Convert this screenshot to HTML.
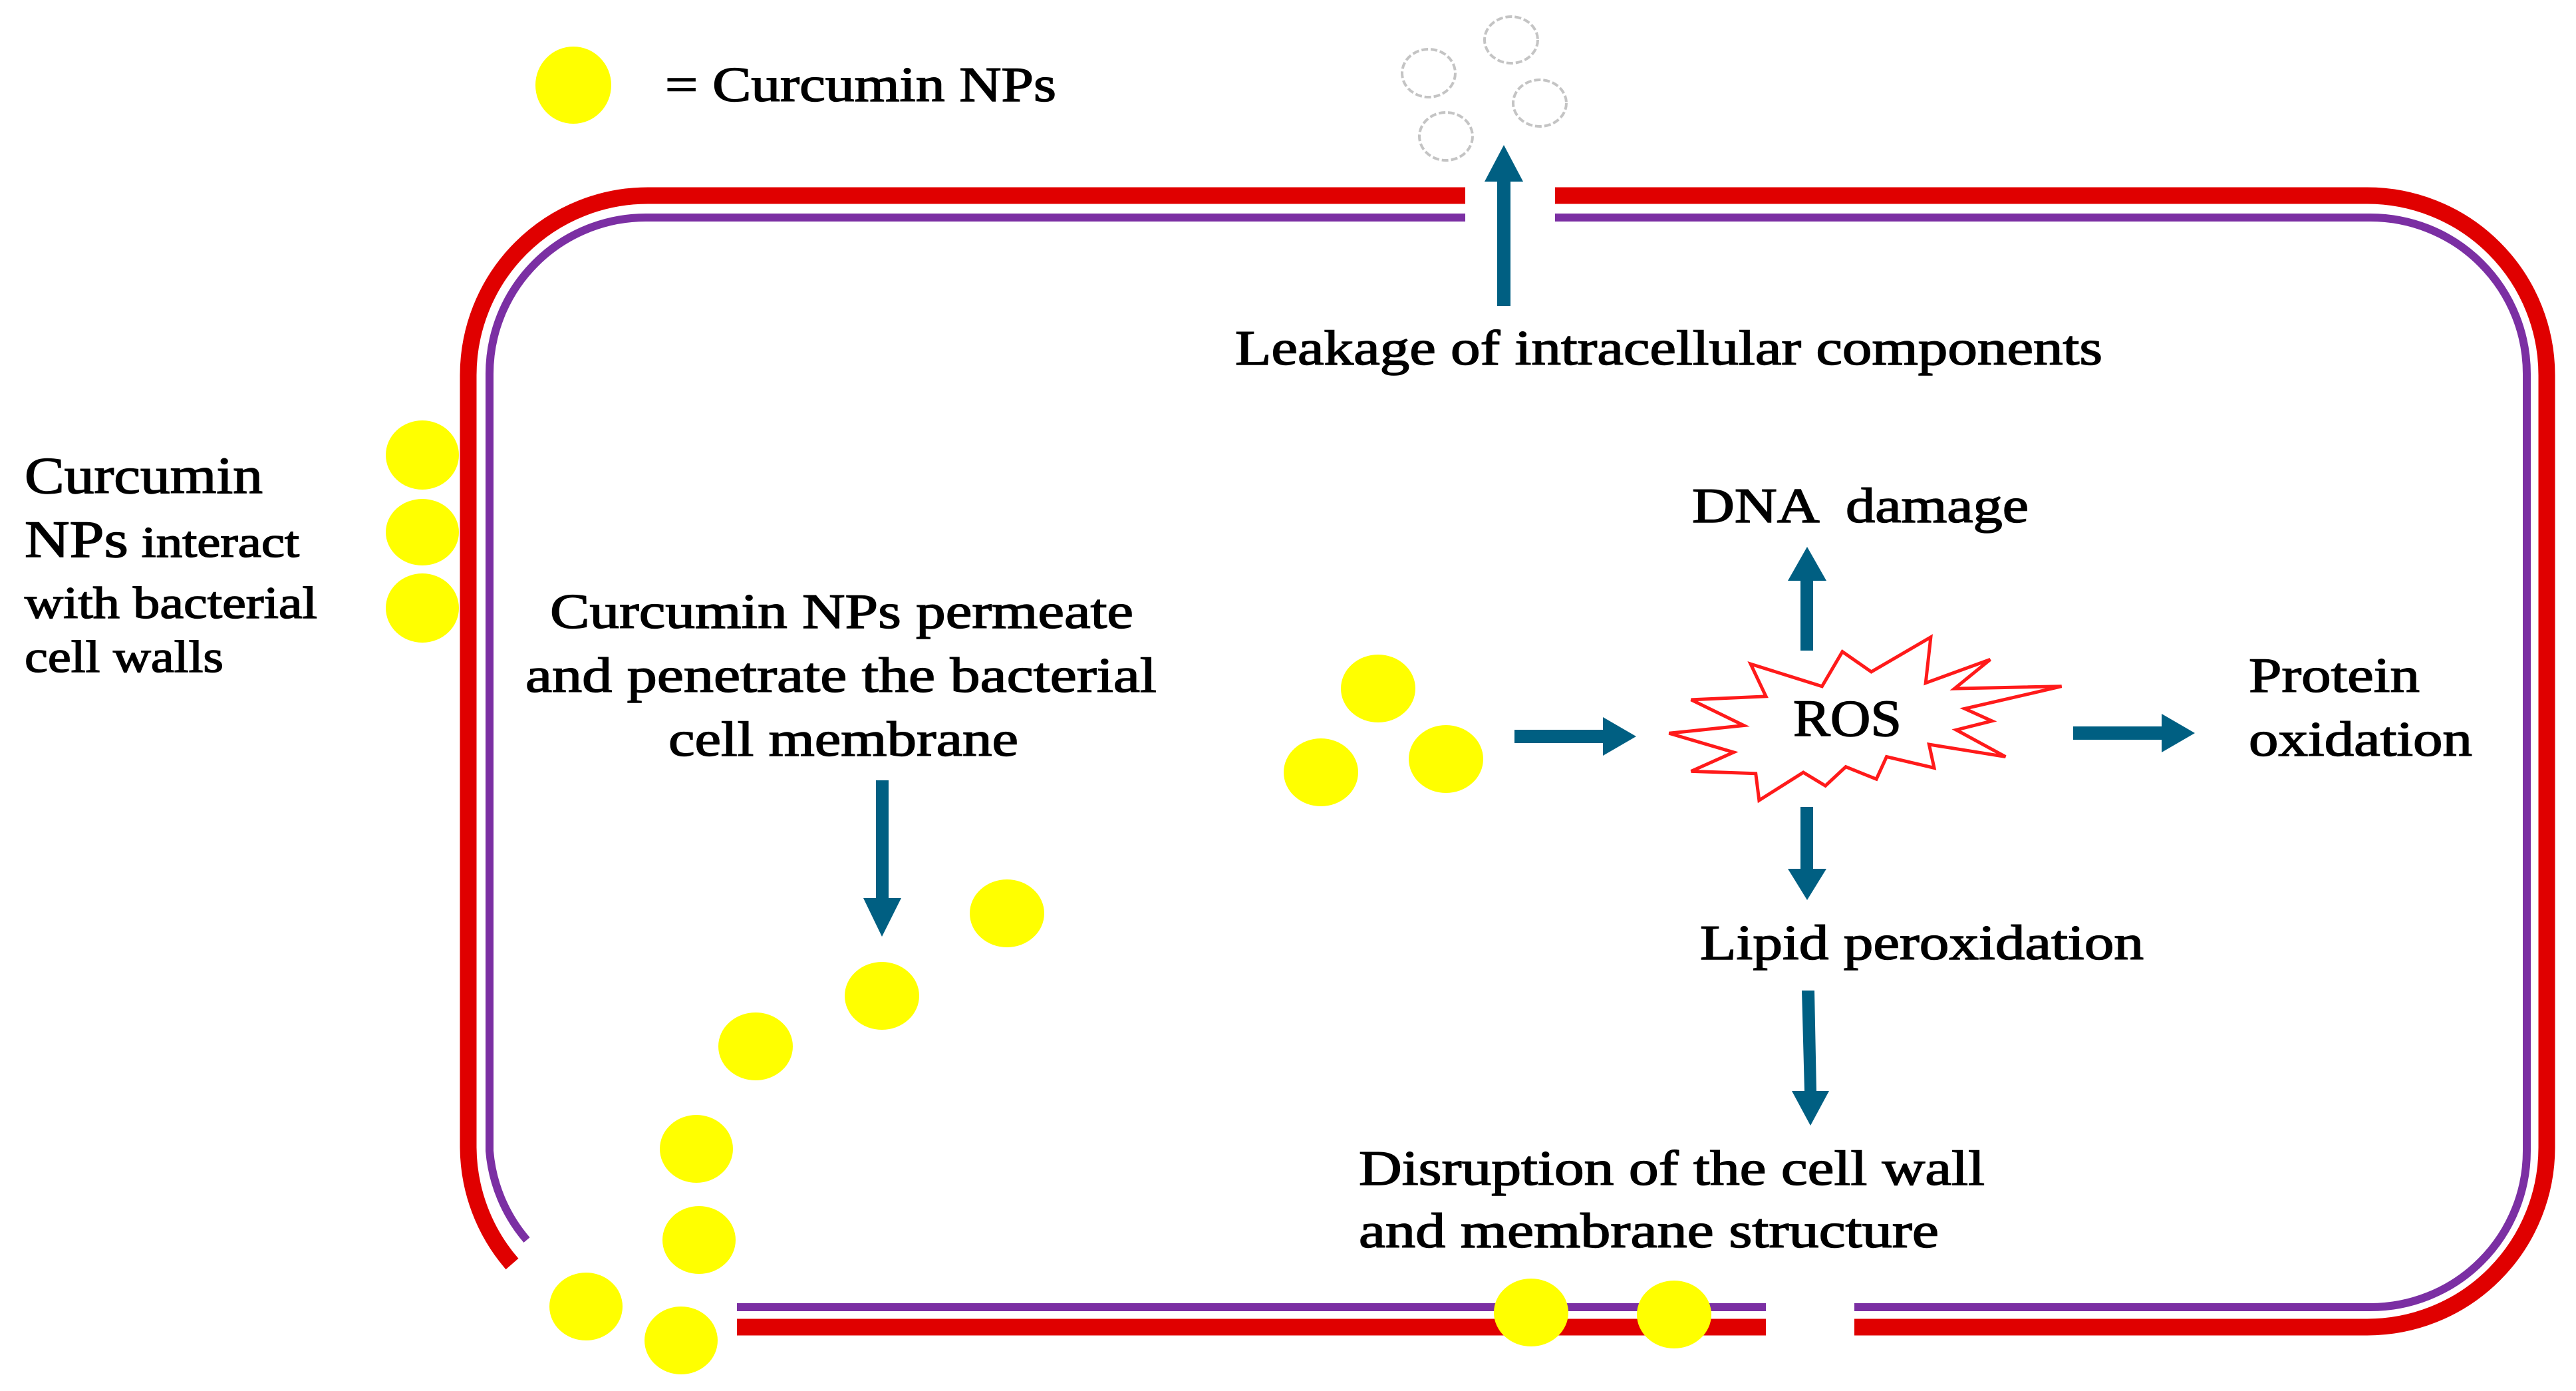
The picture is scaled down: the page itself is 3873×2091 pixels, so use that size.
<!DOCTYPE html>
<html><head><meta charset="utf-8"><style>html,body{margin:0;padding:0;background:#fff}svg{display:block}</style></head>
<body>
<svg width="3873" height="2091" viewBox="0 0 3873 2091" xmlns="http://www.w3.org/2000/svg">
<rect width="3873" height="2091" fill="#fff"/>
<!-- membranes -->
<g fill="none" stroke-linecap="butt">
<path d="M1108,1995 L2655,1995 M2788,1995 L3559,1995 A270,270 0 0 0 3829,1725 L3829,564 A270,270 0 0 0 3559,294 L2338,294 M2203,294 L974,294 A270,270 0 0 0 704,564 L704,1725 A270,270 0 0 0 770,1900" stroke="#e00000" stroke-width="25"/>
<path d="M1108,1965 L2655,1965 M2788,1965 L3564,1965 A235,235 0 0 0 3799,1730 L3799,562 A235,235 0 0 0 3564,327 L2338,327 M2203,327 L971,327 A235,235 0 0 0 736,562 L736,1730 A235,235 0 0 0 792,1864" stroke="#7b2fa3" stroke-width="12"/>
</g>
<!-- clouds -->
<g fill="#fff" stroke="#c4c4c4" stroke-width="4" stroke-dasharray="10 4">
<ellipse cx="2148" cy="110" rx="40" ry="36"/>
<ellipse cx="2272" cy="60" rx="40" ry="35"/>
<ellipse cx="2315" cy="155" rx="40" ry="35"/>
<ellipse cx="2174" cy="205" rx="40" ry="36"/>
</g>
<!-- yellow NPs -->
<g fill="#ffff00">
<ellipse cx="862" cy="128" rx="57" ry="58"/>
<ellipse cx="635" cy="684" rx="55" ry="52"/>
<ellipse cx="635" cy="800" rx="55" ry="50"/>
<ellipse cx="635" cy="914" rx="55" ry="52"/>
<ellipse cx="1514" cy="1373" rx="56" ry="51"/>
<ellipse cx="1326" cy="1497" rx="56" ry="51"/>
<ellipse cx="1136" cy="1573" rx="56" ry="51"/>
<ellipse cx="1047" cy="1727" rx="55" ry="51"/>
<ellipse cx="1051" cy="1864" rx="55" ry="51"/>
<ellipse cx="881" cy="1964" rx="55" ry="51"/>
<ellipse cx="1024" cy="2015" rx="55" ry="51"/>
<ellipse cx="2072" cy="1035" rx="56" ry="51"/>
<ellipse cx="1986" cy="1161" rx="56" ry="51"/>
<ellipse cx="2174" cy="1141" rx="56" ry="51"/>
<ellipse cx="2302" cy="1973" rx="56" ry="51"/>
<ellipse cx="2517" cy="1976" rx="56" ry="51"/>
</g>
<!-- arrows -->
<g fill="#005f82">
<rect x="2251" y="270" width="20" height="190"/>
<polygon points="2232,273 2290,273 2261,218"/>
<rect x="1317" y="1173" width="19" height="180"/>
<polygon points="1298,1350 1355,1350 1326,1408"/>
<rect x="2277" y="1097" width="135" height="20"/>
<polygon points="2410,1078 2410,1136 2460,1107"/>
<rect x="3117" y="1092" width="135" height="20"/>
<polygon points="3250,1073 3250,1131 3300,1102"/>
<rect x="2707" y="870" width="19" height="108"/>
<polygon points="2688,873 2746,873 2717,822"/>
<rect x="2707" y="1213" width="19" height="95"/>
<polygon points="2688,1306 2746,1306 2717,1353"/>
<polygon points="2709,1489 2728,1489 2731,1640 2750,1640 2722,1692 2694,1640 2713,1640"/>
</g>
<!-- ROS star -->
<g transform="translate(2397,899) scale(0.511,0.336)">
<polygon points="460,295 670,395 730,240 815,330 990,175 975,380 1165,275 1060,405 1375,395 1090,495 1170,550 1065,590 1210,710 985,655 1000,760 860,710 830,810 740,755 680,840 615,780 485,905 475,785 285,775 410,690 220,605 440,570 285,455 505,440" fill="#fff" stroke="#ff1a1a" stroke-width="5" vector-effect="non-scaling-stroke" stroke-linejoin="miter"/>
</g>
<!-- text -->
<g font-family="'Liberation Serif', serif" fill="#000" stroke="#000" stroke-width="1.5" font-size="74">
<text x="1000" y="152" textLength="588" lengthAdjust="spacingAndGlyphs">= Curcumin NPs</text>
<text x="1857" y="548" textLength="1304" lengthAdjust="spacingAndGlyphs">Leakage of intracellular components</text>
<text x="37" y="741" textLength="358" lengthAdjust="spacingAndGlyphs" font-size="78">Curcumin</text>
<text x="37" y="837" textLength="413" lengthAdjust="spacingAndGlyphs"><tspan font-size="78">NPs</tspan><tspan font-size="66"> interact</tspan></text>
<text x="37" y="929" textLength="440" lengthAdjust="spacingAndGlyphs" font-size="68">with bacterial</text>
<text x="37" y="1010" textLength="299" lengthAdjust="spacingAndGlyphs" font-size="68">cell walls</text>
<text x="827" y="944" textLength="877" lengthAdjust="spacingAndGlyphs">Curcumin NPs permeate</text>
<text x="790" y="1040" textLength="949" lengthAdjust="spacingAndGlyphs">and penetrate the bacterial</text>
<text x="1005" y="1136" textLength="526" lengthAdjust="spacingAndGlyphs">cell membrane</text>
<text x="2544" y="785" textLength="506" lengthAdjust="spacingAndGlyphs" xml:space="preserve">DNA  damage</text>
<text x="2696" y="1106" textLength="163" lengthAdjust="spacingAndGlyphs" font-size="78">ROS</text>
<text x="2556" y="1442" textLength="667" lengthAdjust="spacingAndGlyphs">Lipid peroxidation</text>
<text x="2043" y="1781" textLength="941" lengthAdjust="spacingAndGlyphs">Disruption of the cell wall</text>
<text x="2043" y="1875" textLength="872" lengthAdjust="spacingAndGlyphs">and membrane structure</text>
<text x="3381" y="1040" textLength="257" lengthAdjust="spacingAndGlyphs">Protein</text>
<text x="3381" y="1136" textLength="336" lengthAdjust="spacingAndGlyphs">oxidation</text>
</g>
</svg>
</body></html>
